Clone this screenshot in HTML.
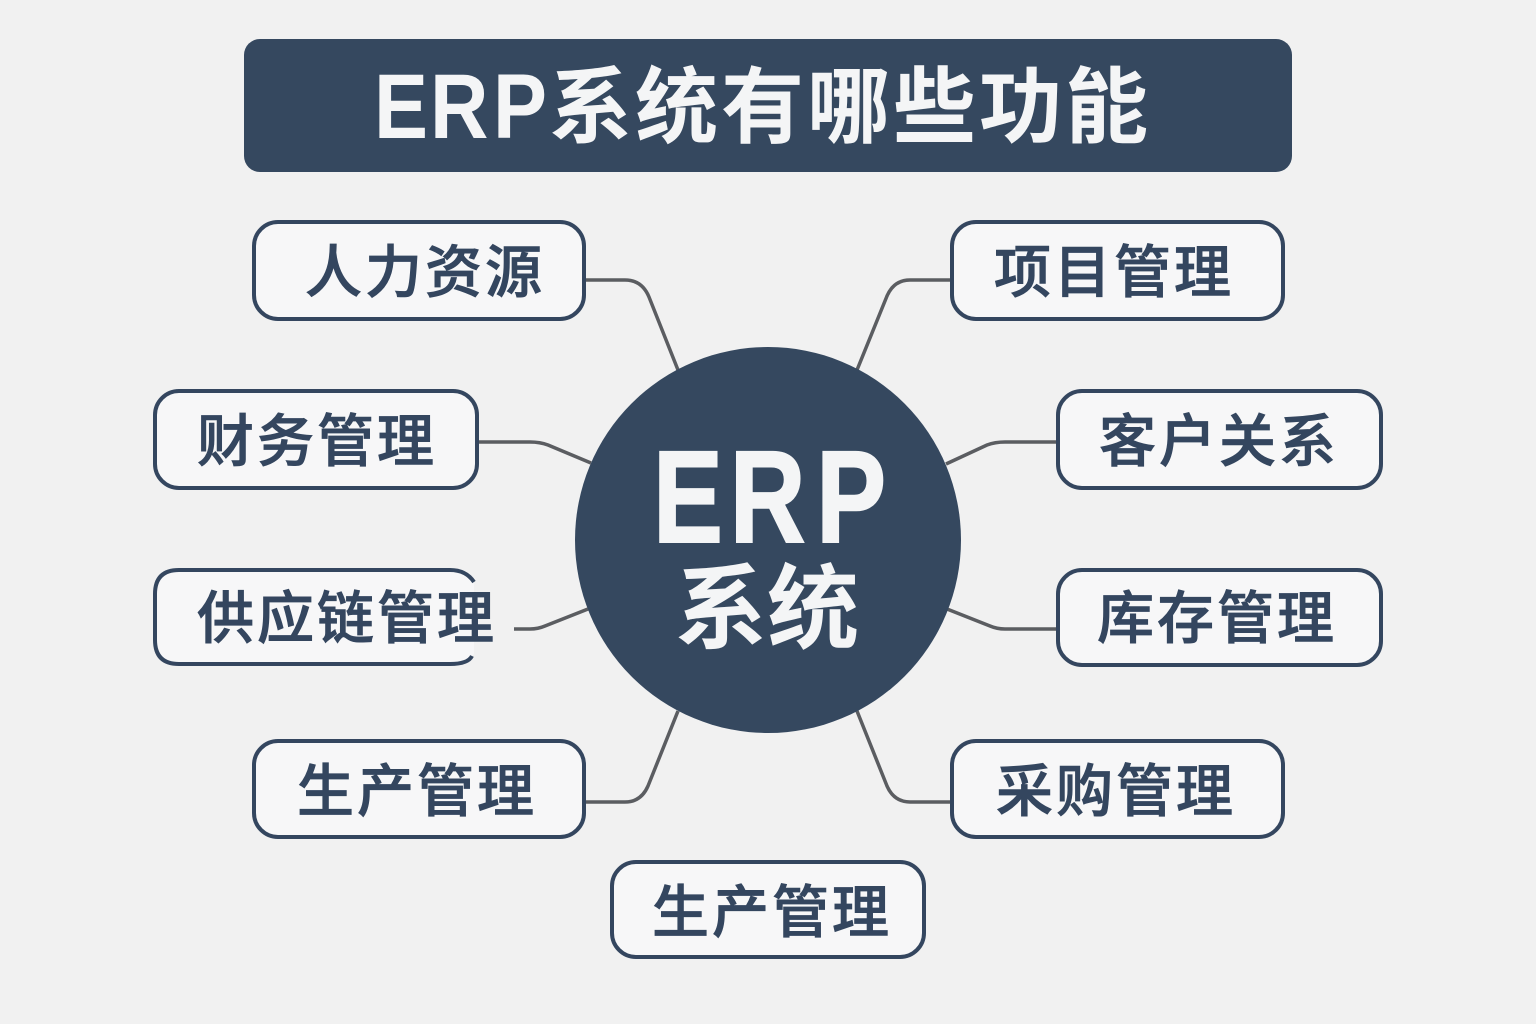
<!DOCTYPE html>
<html lang="zh"><head><meta charset="utf-8"><style>
html,body{margin:0;padding:0;background:#f1f1f1}
svg{display:block}
.c{font-family:"Noto Sans CJK SC","Liberation Sans",sans-serif}
.l{font-family:"Liberation Sans","Noto Sans CJK SC",sans-serif;font-weight:700}
.b{fill:#f7f7f8;stroke:#34465f;stroke-width:4}
.t{font-family:"Noto Sans CJK SC",sans-serif;font-size:57px;font-weight:500;fill:#34465f;stroke:#34465f;stroke-width:.8;letter-spacing:3px}
.w{fill:none;stroke:#5b5d61;stroke-width:3.5}
</style></head><body>
<svg width="1536" height="1024" viewBox="0 0 1536 1024" xmlns="http://www.w3.org/2000/svg">
<rect width="1536" height="1024" fill="#f1f1f1"/>
<rect x="244" y="39" width="1048" height="133" rx="16" fill="#35485f"/>
<text class="l" transform="translate(374,138) scale(.88,1)" x="0 63.6 135.2" font-size="92" fill="#f4f5f6">ERP</text>
<text class="c" x="549" y="136" font-size="83" font-weight="700" fill="#f4f5f6" letter-spacing="3">系统有哪些功能</text>

<path class="w" d="M584 280H625Q642 280 649 297L678 370"/>
<path class="w" d="M951 280H910Q894 280 887 296L857 370"/>
<path class="w" d="M477 442H530Q540 442 548 445L591 463"/>
<path class="w" d="M1057 442H1005Q995 442 987 445L946 464"/>
<path class="w" d="M514 629H530Q538 629 545 626L588 609"/>
<path class="w" d="M1057 629H1005Q997 629 990 626L947 609"/>
<path class="w" d="M584 802H625Q641 802 648 786L678 711"/>
<path class="w" d="M951 802H910Q894 802 887 786L857 711"/>

<circle cx="768" cy="540" r="193" fill="#35485f"/>
<text class="l" transform="translate(653,542) scale(.8,1)" x="0 96 204" font-size="131" fill="#f4f5f6" stroke="#f4f5f6" stroke-width="2">ERP</text>
<text class="c" x="675" y="641" font-size="92" font-weight="700" fill="#f4f5f6">系统</text>

<rect class="b" x="254" y="222" width="330" height="97" rx="24"/>
<text class="t" x="305" y="292">人力资源</text>
<rect class="b" x="952" y="222" width="331" height="97" rx="24"/>
<text class="t" x="994" y="292">项目管理</text>
<rect class="b" x="155" y="391" width="322" height="97" rx="24"/>
<text class="t" x="197" y="461">财务管理</text>
<rect class="b" x="1058" y="391" width="323" height="97" rx="24"/>
<text class="t" x="1099" y="461">客户关系</text>

<path fill="#f7f7f8" stroke="none" d="M179 570H450Q466 570 474 582V654Q466 664 450 664H179Q155 664 155 640V594Q155 570 179 570Z"/>
<path fill="none" stroke="#34465f" stroke-width="4" d="M474 582Q466 570 450 570H179Q155 570 155 594V640Q155 664 179 664H450Q468 664 472 656"/>
<text class="t" x="197" y="638">供应链管理</text>

<rect class="b" x="1058" y="570" width="323" height="95" rx="24"/>
<text class="t" x="1097" y="638">库存管理</text>
<rect class="b" x="254" y="741" width="330" height="96" rx="24"/>
<text class="t" x="297" y="811">生产管理</text>
<rect class="b" x="952" y="741" width="331" height="96" rx="24"/>
<text class="t" x="996" y="811">采购管理</text>
<rect class="b" x="612" y="862" width="312" height="95" rx="24"/>
<text class="t" x="652" y="932">生产管理</text>
</svg>
</body></html>
